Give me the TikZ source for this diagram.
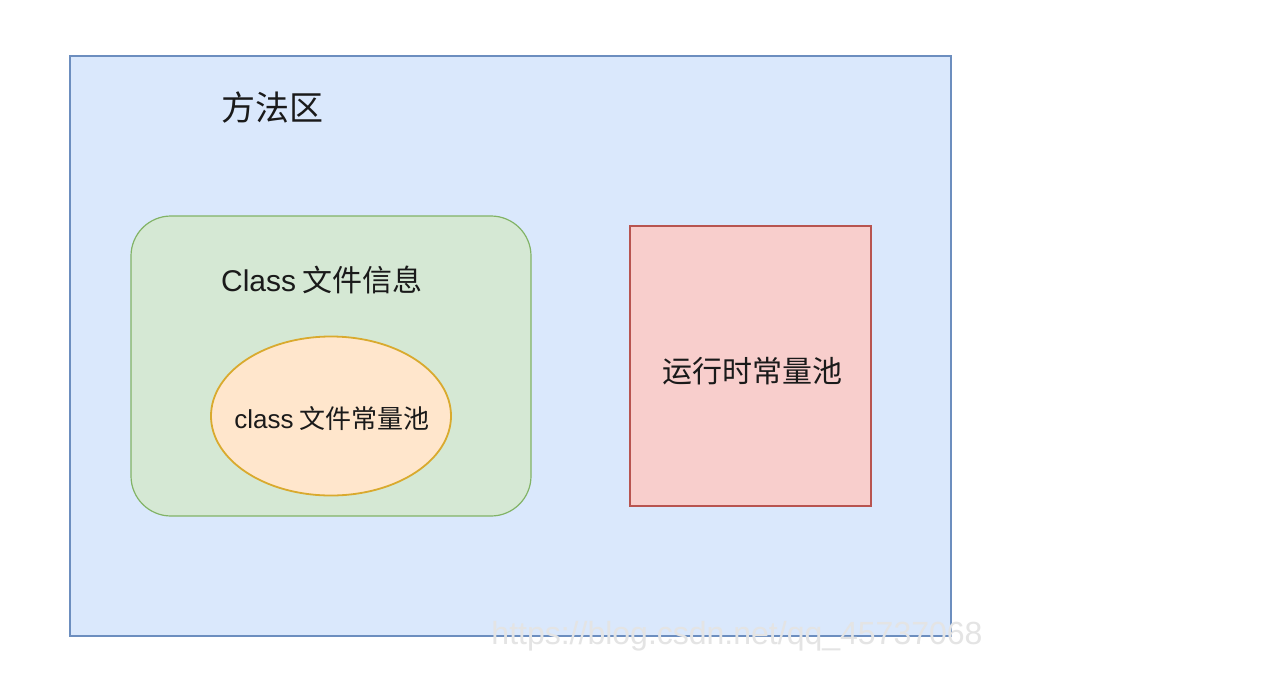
\documentclass[tikz,border=0pt]{standalone}
\usepackage{fontspec}
\setmainfont{Noto Sans CJK SC}
\newfontfamily\latinfont{Liberation Sans}
\usetikzlibrary{shapes.geometric}
\definecolor{bluefill}{HTML}{DAE8FC}
\definecolor{bluedraw}{HTML}{6C8EBF}
\definecolor{greenfill}{HTML}{D5E8D4}
\definecolor{greendraw}{HTML}{82B366}
\definecolor{orangefill}{HTML}{FFE6CC}
\definecolor{orangedraw}{HTML}{D9AA2E}
\definecolor{redfill}{HTML}{F8CECC}
\definecolor{reddraw}{HTML}{B85450}
\definecolor{txt}{HTML}{1A1A1A}
\definecolor{wmark}{HTML}{E4E4E4}
\tikzset{
  box/.style={line width=1.2pt},
  lbl/.style={text=txt, inner sep=0pt},
}
\begin{document}
\begin{tikzpicture}[x=1pt,y=-1pt]
\useasboundingbox (0,0) rectangle (1277,691);
\fill[white] (0,0) rectangle (1277,691);
% outer
\draw[box, fill=bluefill, draw=bluedraw] (70,56) rectangle (951,636);
\node[lbl, font=\fontsize{34}{38}\selectfont] (title) at (272,108) {方法区};
% green
\draw[box, fill=greenfill, draw=greendraw, rounded corners=40pt] (131,216) rectangle (531,516);
\node[lbl, font=\fontsize{30}{34}\selectfont] (cls) at (322,280) {{\latinfont Class} 文件信息};
% ellipse
\node[ellipse, line width=1.8pt, fill=orangefill, draw=orangedraw, minimum width=240pt, minimum height=159pt, inner sep=0pt] (pool) at (331,416) {};
\node[lbl, font=\fontsize{26}{30}\selectfont] (pooltxt) at (332,419) {{\latinfont class} 文件常量池};
% red
\draw[box, fill=redfill, draw=reddraw] (630,226) rectangle (871,506);
\node[lbl, font=\fontsize{30}{34}\selectfont] (rt) at (752,371) {运行时常量池};
% watermark
\node[inner sep=0pt, text=wmark, font=\latinfont\fontsize{32}{36}\selectfont] (wm) at (737,636) {https://blog.csdn.net/qq\_45737068};
\end{tikzpicture}
\end{document}
